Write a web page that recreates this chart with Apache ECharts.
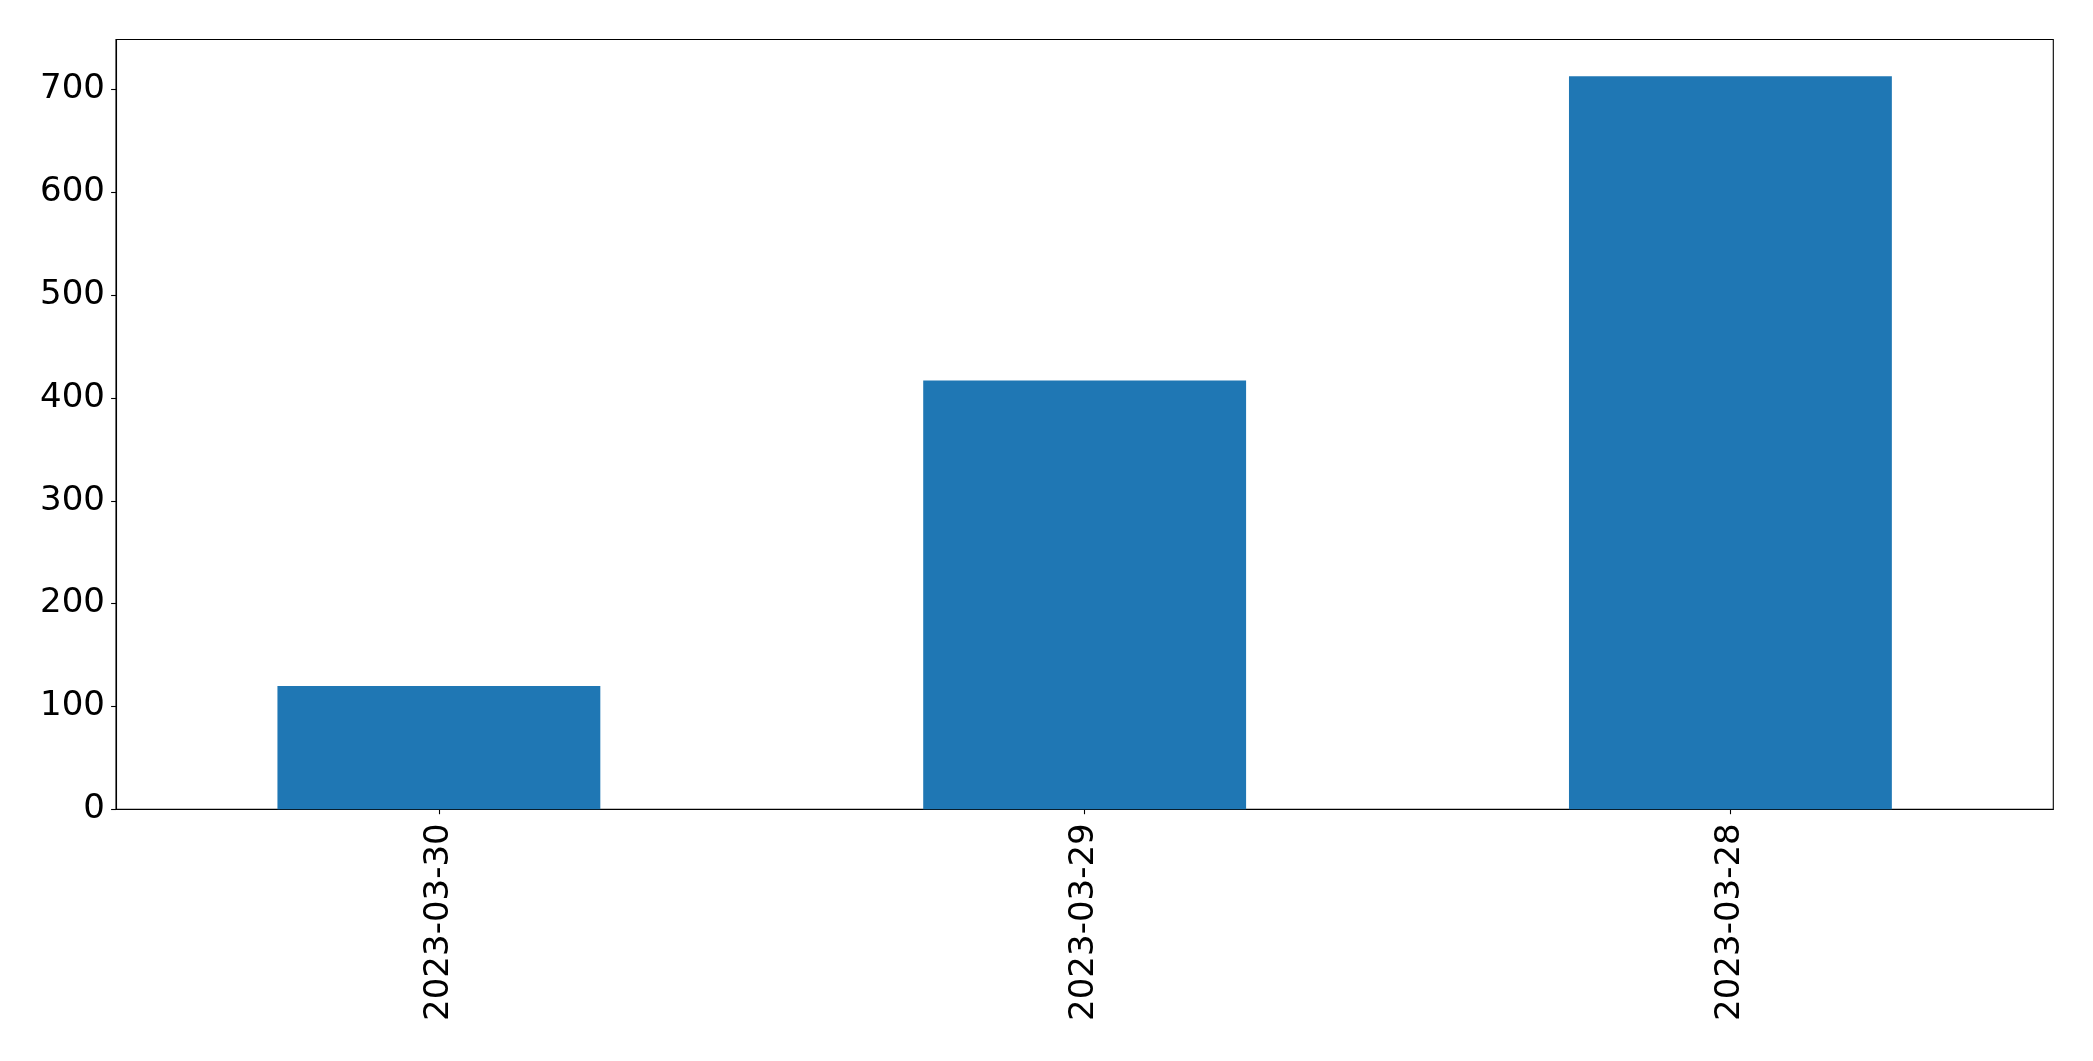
<!DOCTYPE html>
<html>
<head>
<meta charset="utf-8">
<script src="https://cdn.jsdelivr.net/npm/echarts@6/dist/echarts.min.js"></script>
<style>
  html, body { margin: 0; padding: 0; background: #fff; }
  #chart { width: 2093px; height: 1061px; }
</style>
</head>
<body>
<div id="chart"></div>
<script>
const categories = ['2023-03-30', '2023-03-29', '2023-03-28'];
const values = [120, 417, 713];
const yTicks = [0, 100, 200, 300, 400, 500, 600, 700];
const yMax = 748.65;

const chart = echarts.init(document.getElementById('chart'), null, { renderer: 'canvas' });
chart.setOption({
  animation: false,
  backgroundColor: '#ffffff',
  grid: {
    left: 116, right: 39.7, top: 39.5, bottom: 251.7,
    show: true, borderColor: '#000000', borderWidth: 1.1, backgroundColor: 'transparent'
  },
  xAxis: {
    type: 'category',
    data: categories,
    boundaryGap: true,
    axisLine: { show: true, lineStyle: { color: '#000000', width: 1.1 } },
    axisTick: { show: true, alignWithLabel: true, length: 4.9, lineStyle: { color: '#000000', width: 1.1 } },
    axisLabel: {
      rotate: 90, margin: 14, color: '#000000',
      fontFamily: 'DejaVu Sans', fontSize: 34
    },
    splitLine: { show: false }
  },
  yAxis: {
    type: 'value',
    min: 0, max: yMax, interval: 100,
    axisLine: { show: true, lineStyle: { color: '#000000', width: 1.1 } },
    axisTick: { show: true, length: 4.9, lineStyle: { color: '#000000', width: 1.1 }, customValues: yTicks },
    axisLabel: {
      margin: 11, color: '#000000',
      fontFamily: 'DejaVu Sans', fontSize: 34,
      customValues: yTicks
    },
    splitLine: { show: false }
  },
  series: [{
    type: 'bar',
    data: values,
    barWidth: '50%',
    itemStyle: { color: '#1f77b4' }
  }]
});
</script>
</body>
</html>
